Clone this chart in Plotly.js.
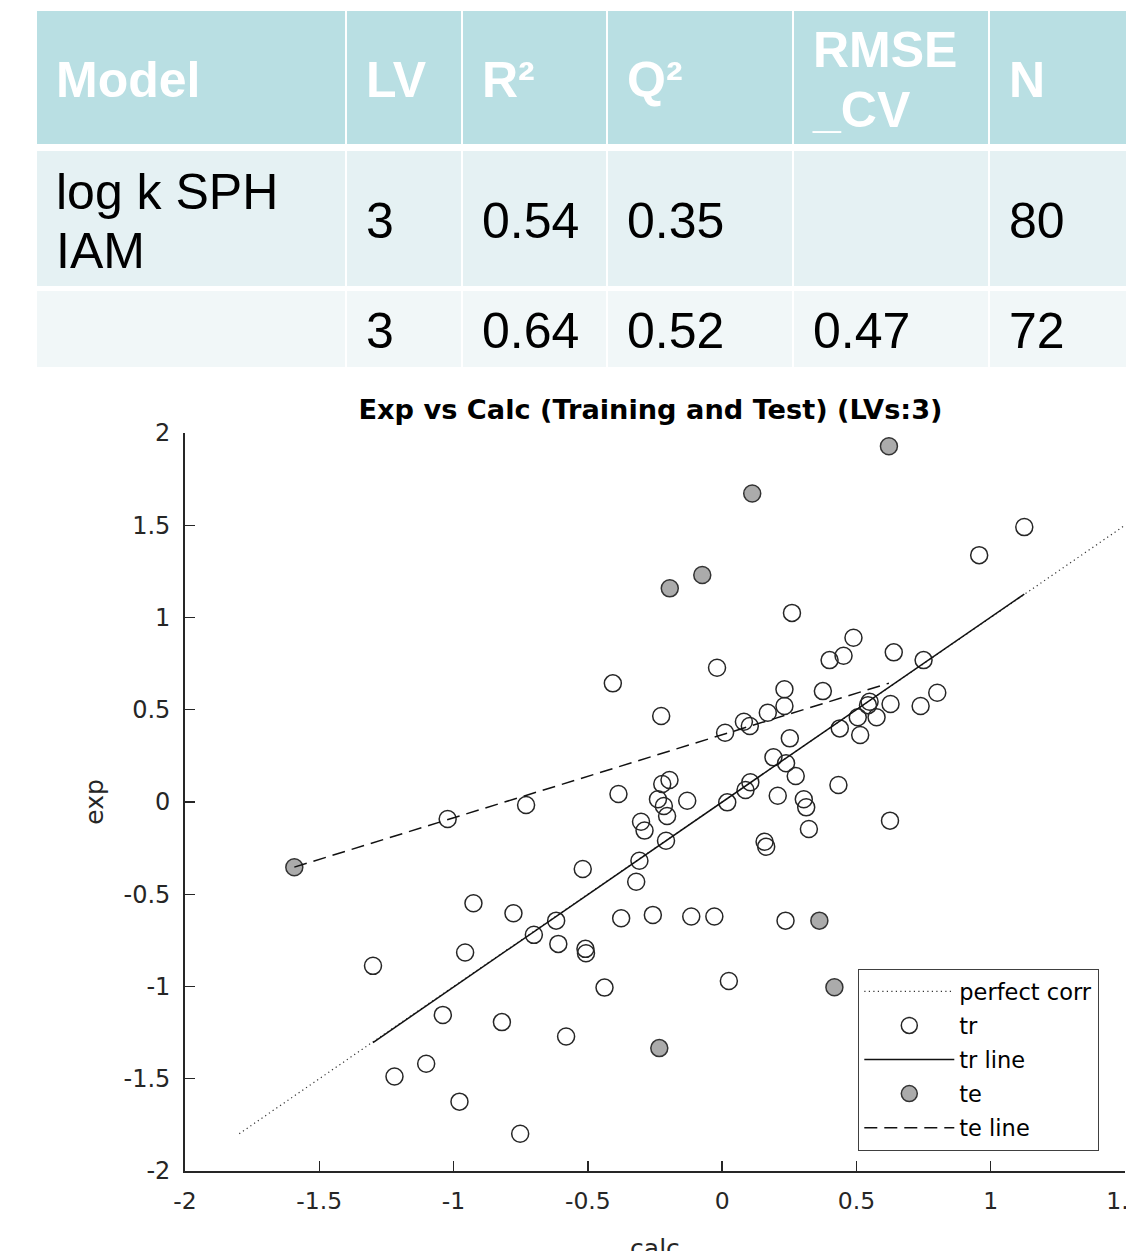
<!DOCTYPE html>
<html>
<head>
<meta charset="utf-8">
<script src="https://cdn.plot.ly/plotly-3.0.1.min.js"></script>
<style>
html, body { margin: 0; padding: 0; overflow: hidden; background: #ffffff; }
#chart { width: 1200px; height: 1290px; }
</style>
</head>
<body>
<div id="chart"></div>
<script>
// ---------------- data ----------------
const tableHeader = ["Model", "LV", "R²", "Q²", "RMSE\n_CV", "N"];
const tableRow1 = ["log k SPH\nIAM", "3", "0.54", "0.35", "", "80"];
const tableRow2 = ["", "3", "0.64", "0.52", "0.47", "72"];

const trCalc = [1.125, 0.957, 0.260, 0.489, 0.639, 0.400, 0.452, 0.750, -0.019, -0.407,
  0.232, 0.375, 0.801, 0.739, 0.627, 0.549, 0.543, 0.505, 0.575, 0.438,
  0.514, 0.170, 0.232, 0.081, 0.103, 0.011, -0.227, 0.252, 0.191, 0.238,
  0.274, 0.105, 0.087, 0.433, 0.207, 0.304, 0.313, 0.323, 0.625, 0.019,
  -0.130, -0.196, -0.223, -0.239, -0.217, -0.205, -0.209, -0.386, -0.302, -0.289,
  -0.308, -0.320, -0.519, -0.730, -1.022, 0.158, 0.164, -0.926, -0.777, -0.618,
  -0.701, -0.610, -0.509, -0.507, -0.376, -0.258, -0.115, -0.029, 0.236, 0.025,
  -0.957, -1.300, -0.438, -1.040, -0.820, -0.581, -1.220, -1.102, -0.978, -0.752];
const trExp = [1.490, 1.338, 1.025, 0.890, 0.811, 0.769, 0.793, 0.769, 0.728, 0.643,
  0.611, 0.601, 0.592, 0.520, 0.531, 0.543, 0.525, 0.459, 0.459, 0.399,
  0.363, 0.484, 0.520, 0.435, 0.412, 0.375, 0.466, 0.345, 0.242, 0.210,
  0.141, 0.107, 0.065, 0.092, 0.034, 0.015, -0.029, -0.146, -0.101, -0.002,
  0.007, 0.119, 0.098, 0.015, -0.022, -0.076, -0.210, 0.043, -0.107, -0.155,
  -0.318, -0.432, -0.363, -0.016, -0.092, -0.215, -0.242, -0.549, -0.603, -0.643,
  -0.720, -0.769, -0.796, -0.820, -0.630, -0.612, -0.621, -0.621, -0.643, -0.970,
  -0.816, -0.888, -1.006, -1.154, -1.193, -1.271, -1.488, -1.419, -1.624, -1.798];

const teCalc = [0.621, 0.112, -0.074, -0.195, -1.593, 0.362, 0.418, -0.234];
const teExp = [1.928, 1.672, 1.230, 1.158, -0.354, -0.643, -1.004, -1.334];

const xTickVals = [-2, -1.5, -1, -0.5, 0, 0.5, 1, 1.5];
const xTickText = ["-2", "-1.5", "-1", "-0.5", "0", "0.5", "1", "1.5"];
const yTickVals = [-2, -1.5, -1, -0.5, 0, 0.5, 1, 1.5, 2];
const yTickText = ["-2", "-1.5", "-1", "-0.5", "0", "0.5", "1", "1.5", "2"];

const legendNames = ["perfect corr", "tr", "tr line", "te", "te line"];
const chartTitle = "Exp vs Calc (Training and Test) (LVs:3)";

// ---------------- layout constants ----------------
const W = 1200, H = 1290;           // drawing is larger than the window; the window crops it
const py = y => 1 - y / H;          // pixel row -> paper fraction
const tableLeft = 36;
const colWidths = [310, 116, 145, 186, 196, 150];
const tableWidth = colWidths.reduce((a, b) => a + b, 0);
const rowTops = [10, 150, 290];
const rowHeights = [135, 137, 78];
const rowFills = ["#B9DFE3", "#E5F1F3", "#F1F7F8"];
const tableRows = [tableHeader, tableRow1, tableRow2];
const fontSize = 50;
const lineStep = 60;
const textShiftX = 12;

const traces = [];

// grid (cell backgrounds)
tableRows.forEach((row, r) => {
  traces.push({
    type: "table",
    domain: { x: [tableLeft / W, (tableLeft + tableWidth) / W],
              y: [py(rowTops[r] + rowHeights[r] + 2), py(rowTops[r])] },
    columnwidth: colWidths,
    header: { values: row.map(() => ""), height: rowHeights[r],
              fill: { color: rowFills[r] }, line: { color: "#ffffff", width: 2.5 } },
    cells: { values: [] },
    hoverinfo: "skip"
  });
});

// text layers
tableRows.forEach((row, r) => {
  const groups = {};
  row.forEach((txt, c) => {
    if (!txt) return;
    const lines = txt.split("\n");
    const n = lines.length;
    lines.forEach((ln, i) => {
      const base = rowTops[r] + rowHeights[r] / 2 + 19 + (i - (n - 1) / 2) * lineStep;
      const spaced = ln.indexOf(" ") >= 0;
      const key = base.toFixed(1) + (spaced ? "s" : "p");
      if (!groups[key]) groups[key] = { base, spaced, vals: row.map(() => "") };
      groups[key].vals[c] = ln;
    });
  });
  Object.values(groups).forEach(g => {
    const off = g.spaced ? 8 + 0.73 * fontSize : 8 + 0.75 * fontSize;
    const top = g.base - off;
    traces.push({
      type: "table",
      domain: { x: [(tableLeft + textShiftX) / W, (tableLeft + tableWidth + textShiftX) / W],
                y: [py(top + 84), py(top)] },
      columnwidth: colWidths,
      header: { values: g.vals, height: 82, align: "left",
                fill: { color: "rgba(0,0,0,0)" }, line: { width: 0, color: "rgba(0,0,0,0)" },
                font: { family: "Liberation Sans, Arial, sans-serif", size: fontSize,
                        color: r === 0 ? "#ffffff" : "#000000", weight: r === 0 ? "bold" : "normal" } },
      cells: { values: [] },
      hoverinfo: "skip"
    });
  });
});

// ---------------- scatter chart ----------------
function fitLine(x, y) {
  const n = x.length;
  const mx = x.reduce((a, b) => a + b, 0) / n;
  const my = y.reduce((a, b) => a + b, 0) / n;
  let sxy = 0, sxx = 0;
  for (let i = 0; i < n; i++) { sxy += (x[i] - mx) * (y[i] - my); sxx += (x[i] - mx) ** 2; }
  const b = sxy / sxx, a = my - b * mx;
  const lo = Math.min(...x), hi = Math.max(...x);
  return { x: [lo, hi], y: [a + b * lo, a + b * hi] };
}
const allVals = trCalc.concat(trExp, teCalc, teExp);
const pcLo = Math.min(...allVals), pcHi = Math.max(...allVals);
const trFit = fitLine(trCalc, trExp);
const teFit = fitLine(teCalc, teExp);

const ink = "#262626";
traces.push({ type: "scatter", mode: "lines", name: legendNames[0], legendgroup: "g0", x: [pcLo, pcHi], y: [pcLo, pcHi],
  line: { color: "#333333", width: 1.2, dash: "1.2px,3.3px" }, xaxis: "x", yaxis: "y", hoverinfo: "skip" });
traces.push({ type: "scatter", mode: "markers", name: legendNames[1], legendgroup: "g1", x: trCalc, y: trExp,
  marker: { symbol: "circle-open", size: 17, color: ink, line: { width: 1.5, color: ink } }, xaxis: "x", yaxis: "y" });
traces.push({ type: "scatter", mode: "lines", name: legendNames[2], legendgroup: "g2", x: trFit.x, y: trFit.y,
  line: { color: "#111111", width: 1.5 }, xaxis: "x", yaxis: "y", hoverinfo: "skip" });
traces.push({ type: "scatter", mode: "markers", name: legendNames[3], legendgroup: "g3", x: teCalc, y: teExp,
  marker: { symbol: "circle", size: 17, color: "#ababab", line: { width: 1.5, color: "#333333" } }, xaxis: "x", yaxis: "y" });
traces.push({ type: "scatter", mode: "lines", name: legendNames[4], legendgroup: "g4", x: teFit.x, y: teFit.y,
  line: { color: "#111111", width: 1.5, dash: "13px,7px" }, xaxis: "x", yaxis: "y", hoverinfo: "skip" });

const axisCommon = {
  showline: true, linecolor: ink, linewidth: 1.8, mirror: false,
  ticks: "inside", ticklen: 10, tickwidth: 1.3, tickcolor: ink,
  showgrid: false, zeroline: false, fixedrange: true
};

const layout = {
  width: W, height: H,
  margin: { l: 0, r: 0, t: 0, b: 0, pad: 0 },
  paper_bgcolor: "#ffffff", plot_bgcolor: "#ffffff",
  showlegend: true,
  title: { text: chartTitle, x: 650.5 / W, xref: "container", xanchor: "center",
           y: py(409.7), yref: "container", yanchor: "middle",
           font: { family: "DejaVu Sans, sans-serif", size: 27.2, weight: "bold", color: "#000000" } },
  xaxis: Object.assign({}, axisCommon, {
    domain: [185 / W, 1125 / W], range: [-2, 1.5], tickmode: "array",
    tickvals: xTickVals, ticktext: xTickText, anchor: "y",
    tickfont: { family: "DejaVu Sans, sans-serif", size: 23.5, color: ink }, ticklabelstandoff: 8,
    title: { text: "calc", font: { family: "DejaVu Sans, sans-serif", size: 25, color: ink }, standoff: 25 }
  }),
  yaxis: Object.assign({}, axisCommon, {
    domain: [py(1171), py(433)], range: [-2, 2], tickmode: "array",
    tickvals: yTickVals, ticktext: yTickText, anchor: "x",
    tickfont: { family: "DejaVu Sans, sans-serif", size: 24, color: ink }, ticklabelstandoff: 8,
    title: { text: "exp", font: { family: "DejaVu Sans, sans-serif", size: 25, color: ink }, standoff: 13 }
  }),
  legend: {
    x: 858 / W, y: py(969), xref: "paper", yref: "paper", xanchor: "left", yanchor: "top",
    bgcolor: "#ffffff", bordercolor: "#404040", borderwidth: 1.3,
    font: { family: "DejaVu Sans, sans-serif", size: 22.5, color: "#000000" },
    itemwidth: 90, traceorder: "grouped", tracegroupgap: 1.8
  }
};

Plotly.newPlot("chart", traces, layout, { displayModeBar: false, responsive: false, staticPlot: true });
</script>
</body>
</html>
